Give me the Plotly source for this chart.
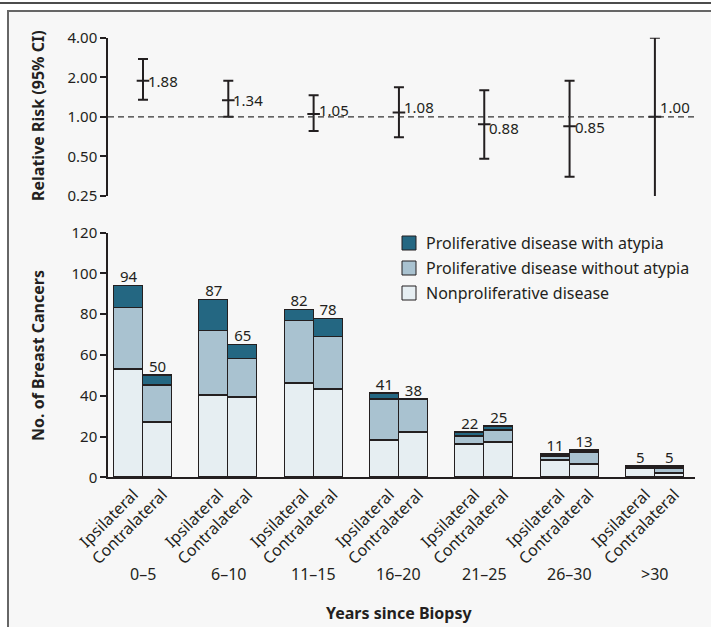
import plotly.graph_objects as go
import numpy as np

# ---------------- data ----------------
groups = ["0\u20135", "6\u201310", "11\u201315", "16\u201320", "21\u201325", "26\u201330", ">30"]
sides = ["Ipsilateral", "Contralateral"]

rr = [1.88, 1.34, 1.05, 1.08, 0.88, 0.85, 1.00]
rr_low = [1.35, 1.00, 0.78, 0.70, 0.48, 0.35, 0.22]
rr_high = [2.75, 1.88, 1.46, 1.68, 1.59, 1.88, 4.00]

# order: per group Ipsilateral, Contralateral
nonprolif = [53, 27, 40, 39, 46, 43, 18, 22, 16, 17, 8, 6, 4, 2]
prolif_no_atypia = [30, 18, 32, 19, 31, 26, 20, 16, 4, 6, 2, 6, 0, 2]
prolif_atypia = [11, 5, 15, 7, 5, 9, 3, 0, 2, 2, 1, 1, 1, 1]
totals = [94, 50, 87, 65, 82, 78, 41, 38, 22, 25, 11, 13, 5, 5]

series_names = ["Nonproliferative disease", "Proliferative disease without atypia",
                "Proliferative disease with atypia"]

# ---------------- style ----------------
W, H = 711, 627
FONT = "Noto Sans"
INK = "#231f20"
colors = ["#e6eef2", "#a9c2d0", "#246782"]
label_shift = [0, 0, 4, 5, -4, -1, 10]  # vertical nudges for RR labels (px)

def px_x(p):
    return p / W

def px_y(p):
    return 1 - p / H

off = 0.17
bw = 0.34
gx = np.arange(len(groups))
bar_x = []
for g in gx:
    bar_x += [g - off, g + off]
bar_text = []
for g in groups:
    bar_text += sides

xr = [-0.41, 6.47]
xdom = [px_x(108), px_x(695)]

fig = go.Figure()

# ---- top panel: relative risk ----
fig.add_trace(go.Scatter(
    x=gx, y=rr, mode="markers",
    marker=dict(symbol="line-ew", size=9, line=dict(width=2, color=INK), color=INK),
    error_y=dict(type="data", symmetric=False,
                 array=[h - v for h, v in zip(rr_high, rr)],
                 arrayminus=[v - l for v, l in zip(rr, rr_low)],
                 color=INK, thickness=2, width=5),
    xaxis="x", yaxis="y", showlegend=False, hoverinfo="skip"))

for g, v, s in zip(gx, rr, label_shift):
    fig.add_annotation(x=g, y=np.log10(v), xref="x", yref="y", text=f"{v:.2f}",
                       showarrow=False, xanchor="left", yanchor="middle",
                       xshift=3, yshift=s, font=dict(family=FONT, size=15, color=INK))

# ---- bottom panel: stacked bars ----
for vals, name, c in zip([nonprolif, prolif_no_atypia, prolif_atypia], series_names, colors):
    fig.add_trace(go.Bar(
        x=bar_x, y=[v if v > 0 else None for v in vals], width=bw, name=name,
        marker=dict(color=c, line=dict(color=INK, width=1.2)),
        xaxis="x2", yaxis="y2", showlegend=False, hoverinfo="skip"))

fig.add_trace(go.Scatter(
    x=bar_x, y=totals, mode="text", text=[str(t) for t in totals],
    textposition="top center", textfont=dict(family=FONT, size=15, color=INK),
    xaxis="x2", yaxis="y2", showlegend=False, hoverinfo="skip"))

# group labels
for g, lab in zip(gx, groups):
    fig.add_annotation(x=g, y=px_y(574), xref="x2", yref="paper", text=lab,
                       showarrow=False, xanchor="center", yanchor="middle",
                       font=dict(family=FONT, size=16, color=INK))

# x title
fig.add_annotation(x=px_x(399), y=px_y(613), xref="paper", yref="paper",
                   text="<b>Years since Biopsy</b>", showarrow=False,
                   xanchor="center", yanchor="middle",
                   font=dict(family=FONT, size=16, color=INK))

# y titles
fig.add_annotation(x=px_x(38), y=px_y(116), xref="paper", yref="paper",
                   text="<b>Relative Risk (95% CI)</b>", textangle=-90, showarrow=False,
                   xanchor="center", yanchor="middle",
                   font=dict(family=FONT, size=16, color=INK))
fig.add_annotation(x=px_x(38), y=px_y(356), xref="paper", yref="paper",
                   text="<b>No. of Breast Cancers</b>", textangle=-90, showarrow=False,
                   xanchor="center", yanchor="middle",
                   font=dict(family=FONT, size=16, color=INK))

# legend (drawn manually)
leg_rows = [243, 268, 293]
for row, name, c in zip(leg_rows, reversed(series_names), reversed(colors)):
    fig.add_shape(type="rect", xref="paper", yref="paper",
                  x0=px_x(402), x1=px_x(416), y0=px_y(row - 7), y1=px_y(row + 7),
                  fillcolor=c, line=dict(color=INK, width=1))
    fig.add_annotation(x=px_x(424), y=px_y(row), xref="paper", yref="paper", text=name,
                       showarrow=False, xanchor="left", yanchor="middle",
                       font=dict(family=FONT, size=16, color=INK))

# frame / background
fig.add_shape(type="rect", xref="paper", yref="paper", x0=px_x(8), x1=1.0,
              y0=0, y1=px_y(11), fillcolor="#f7f7f7", line=dict(width=0), layer="below")
fig.add_shape(type="line", xref="paper", yref="paper", x0=0, x1=1, y0=px_y(3), y1=px_y(3),
              line=dict(color="#111111", width=1.5))
fig.add_shape(type="line", xref="paper", yref="paper", x0=px_x(7), x1=1, y0=px_y(11), y1=px_y(11),
              line=dict(color="#666666", width=2))
fig.add_shape(type="line", xref="paper", yref="paper", x0=px_x(8), x1=px_x(8), y0=0, y1=px_y(11),
              line=dict(color="#666666", width=2))

# dashed reference line at RR = 1
fig.add_shape(type="line", xref="x", yref="y", x0=xr[0], x1=xr[1], y0=1, y1=1,
              line=dict(color="#333333", width=1.2, dash="6px,4px"))

axis_common = dict(showgrid=False, zeroline=False, linecolor=INK, linewidth=1.5,
                   tickcolor=INK, tickwidth=1.5, ticklen=6, automargin=False,
                   tickfont=dict(family=FONT, size=15, color=INK))

fig.update_layout(
    width=W, height=H,
    margin=dict(l=0, r=0, t=0, b=0, pad=0, autoexpand=False),
    paper_bgcolor="white", plot_bgcolor="rgba(0,0,0,0)",
    barmode="stack", bargap=0,
    xaxis=dict(domain=xdom, range=xr, anchor="y", showline=False, showticklabels=False,
               ticks="", showgrid=False, zeroline=False, automargin=False),
    yaxis=dict(domain=[px_y(196), px_y(37.7)], type="log",
               range=[np.log10(0.25), np.log10(4)],
               tickvals=[0.25, 0.5, 1, 2, 4], ticktext=["0.25", "0.50", "1.00", "2.00", "4.00"],
               showline=True, ticks="outside", anchor="x", **axis_common),
    xaxis2=dict(domain=xdom, range=xr, anchor="y2", showline=True, ticks="",
                tickvals=bar_x, ticktext=bar_text, tickangle=-45, automargin=False,
                ticklabelshift=5,
                showgrid=False, zeroline=False, linecolor=INK, linewidth=1.5,
                tickfont=dict(family=FONT, size=16, color=INK)),
    yaxis2=dict(domain=[px_y(477.3), px_y(232.7)], range=[0, 120], dtick=20,
                showline=True, ticks="outside", anchor="x2", **axis_common),
    showlegend=False,
)

fig.write_html("out.html", config={"displayModeBar": False},
               post_script="document.body.style.margin='0';document.body.style.overflow='hidden';")
